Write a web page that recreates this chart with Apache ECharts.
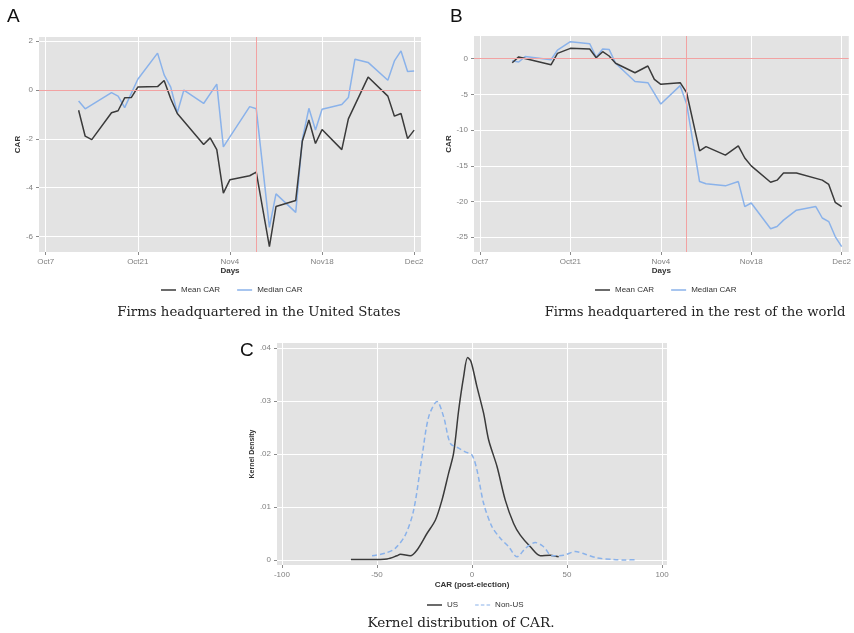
<!DOCTYPE html>
<html><head><meta charset="utf-8">
<script src="https://cdn.jsdelivr.net/npm/echarts@6/dist/echarts.min.js"></script>
<style>html,body{margin:0;padding:0;background:#fff}#c{width:854px;height:633px}</style>
</head><body><div id="c"></div>
<script>
// x values are day offsets counted from Oct 7
const dayTicks = [0, 14, 28, 42, 56];
const dayTickLabels = ['Oct7', 'Oct21', 'Nov4', 'Nov18', 'Dec2'];
const electionDay = 32; // Nov 8

// Panel A: firms headquartered in the United States
const usMeanDays = [5,6,7,10,11,12,13,14,17,18,19,20,24,25,26,27,28,31,32,34,35,38,39,40,41,42,45,46,49,52,53,54,55,56];
const usMeanCAR  = [-0.83,-1.89,-2.03,-0.93,-0.85,-0.32,-0.31,0.12,0.14,0.39,-0.36,-0.96,-2.23,-1.96,-2.44,-4.22,-3.67,-3.51,-3.36,-6.41,-4.77,-4.52,-2.1,-1.23,-2.19,-1.62,-2.44,-1.18,0.53,-0.25,-1.07,-0.96,-1.99,-1.64];
const usMedianDays = [5,6,10,11,12,14,17,18,19,20,21,24,26,27,31,32,34,35,38,39,40,41,42,45,46,47,49,52,53,54,55,56];
const usMedianCAR  = [-0.45,-0.77,-0.11,-0.25,-0.72,0.44,1.51,0.62,0.12,-0.93,0.0,-0.55,0.24,-2.33,-0.68,-0.77,-5.62,-4.25,-5.01,-2.03,-0.75,-1.64,-0.79,-0.59,-0.31,1.26,1.13,0.4,1.19,1.6,0.76,0.78];
const usTicks = [-6, -4, -2, 0, 2];

// Panel B: firms headquartered in the rest of the world
const rowMeanDays = [5,6,11,12,14,17,18,19,20,21,24,26,27,28,31,32,34,35,38,40,41,42,45,46,47,49,53,54,55,56];
const rowMeanCAR  = [-0.56,0.25,-0.85,0.75,1.45,1.36,0.14,0.98,0.38,-0.64,-1.96,-1.02,-2.89,-3.59,-3.36,-4.76,-12.9,-12.3,-13.5,-12.2,-13.9,-15.0,-17.3,-17.0,-16.0,-16.0,-17.0,-17.6,-20.1,-20.7];
const rowMedianDays = [5,6,7,11,12,14,17,18,19,20,21,24,26,27,28,31,32,34,35,38,40,41,42,45,46,47,49,52,53,54,55,56];
const rowMedianCAR  = [-0.28,-0.46,0.3,-0.15,1.2,2.38,2.1,0.2,1.35,1.3,-0.64,-3.2,-3.35,-4.85,-6.35,-3.77,-6.35,-17.2,-17.5,-17.8,-17.2,-20.7,-20.2,-23.8,-23.5,-22.6,-21.2,-20.7,-22.3,-22.8,-24.9,-26.3];
const rowTicks = [-25, -20, -15, -10, -5, 0];

// Panel C: kernel density of post-election CAR
const usKdeX = [-63.7,-53.5,-44.7,-39.5,-37.7,-32.5,-28.9,-23.7,-19.3,-15.8,-12.3,-9.7,-7.0,-4.4,-2.3,-0.5,2.6,6.1,8.8,13.2,17.5,21.9,25.4,30.7,36.0,41.2,45.6];
const usKdeY = [0.0001,0.0001,0.0002,0.0008,0.0011,0.0008,0.0019,0.005,0.0075,0.0113,0.0164,0.0201,0.0283,0.0346,0.0382,0.0374,0.0327,0.0277,0.0226,0.0176,0.0113,0.0069,0.0047,0.0025,0.0008,0.0009,0.0006];
const nonUsKdeX = [-52.6,-45.6,-40.4,-35.1,-30.7,-26.3,-22.8,-18.4,-14.9,-11.4,-7.0,-3.5,0.0,2.6,6.1,10.5,14.9,19.3,23.7,28.1,33.3,37.7,42.1,48.2,54.4,59.6,65.8,74.5,80.7,86.8];
const nonUsKdeY = [0.0008,0.0013,0.0022,0.0047,0.0094,0.0195,0.027,0.0299,0.027,0.022,0.0211,0.0204,0.0198,0.017,0.0107,0.0063,0.0041,0.0025,0.0006,0.0022,0.0033,0.0025,0.0008,0.0009,0.0016,0.0011,0.0004,0.0001,0.0,0.0001];
const carTicks = [-100, -50, 0, 50, 100];
const densTicks = [0, 0.01, 0.02, 0.03, 0.04];
const densTickLabels = ['0', '.01', '.02', '.03', '.04'];

const zip = (a, b) => a.map((v, i) => [v, b[i]]);

const BG = '#e3e3e3', BLACK = '#3a3a3a', BLUE = '#8ab2ea', RED = '#f2a2a2';
const FONT = 'Liberation Sans, Arial, sans-serif';
const SERIF = 'DejaVu Serif, serif';
const tickLbl = { color: '#808080', fontSize: 8, fontFamily: FONT };

function axisBase(gi, min, max, ticks, fmt, name, gap, nfs) {
  return {
    type: 'value', gridIndex: gi, min, max,
    name, nameLocation: 'middle', nameGap: gap,
    nameTextStyle: { color: '#333', fontSize: nfs || 8, fontWeight: 'bold', fontFamily: FONT },
    axisLine: { show: false, onZero: false },
    axisTick: { show: true, inside: false, length: 3, lineStyle: { color: '#8a8a8a' }, customValues: ticks },
    axisLabel: Object.assign({ margin: 6, customValues: ticks, formatter: fmt }, tickLbl),
    splitLine: { show: true, lineStyle: { color: '#ffffff', width: 1 } }
  };
}
const xAx = (gi, min, max, ticks, fmt, name, gap) =>
  Object.assign(axisBase(gi, min, max, ticks, fmt, name, gap), { position: 'bottom' });
const yAx = (gi, min, max, ticks, fmt, name, gap, nfs) =>
  Object.assign(axisBase(gi, min, max, ticks, fmt, name, gap, nfs), { position: 'left', nameRotate: 90 });

const dayFmt = v => { const i = dayTicks.indexOf(v); return i >= 0 ? dayTickLabels[i] : ''; };
const numFmt = v => String(v);
const densFmt = v => { const i = densTicks.findIndex(t => Math.abs(t - v) < 1e-9); return i >= 0 ? densTickLabels[i] : ''; };

const refLines = {
  silent: true, symbol: 'none', label: { show: false },
  lineStyle: { color: RED, width: 1, type: 'solid' },
  data: [{ yAxis: 0 }, { xAxis: electionDay }]
};
function lineSeries(name, xi, data, color, extra) {
  return Object.assign({
    type: 'line', name, xAxisIndex: xi, yAxisIndex: xi, data,
    showSymbol: false, symbol: 'none', color,
    lineStyle: { color, width: 1.5 }
  }, extra || {});
}
const solidIcon = 'path://M0,0h15v1.5h-15z';
const dashIcon = 'path://M0,0h5v1.5h-5z M8,0h5v1.5h-5z M16,0h5v1.5h-5z';
const legendBase = {
  itemWidth: 15, itemHeight: 2, itemGap: 17, padding: 0,
  textStyle: { color: '#333', fontSize: 8, fontFamily: FONT }
};

const chart = echarts.init(document.getElementById('c'), null, { renderer: 'canvas' });
chart.setOption({
  animation: false,
  backgroundColor: '#ffffff',
  grid: [
    { left: 39, top: 37, width: 382, height: 215, show: true, backgroundColor: BG, borderWidth: 0 },
    { left: 474, top: 36, width: 378, height: 216, show: true, backgroundColor: BG, borderWidth: 0 },
    { left: 277, top: 343, width: 390, height: 222, show: true, backgroundColor: BG, borderWidth: 0 }
  ],
  xAxis: [
    xAx(0, -1.02, 57.04, dayTicks, dayFmt, 'Days', 15),
    xAx(1, -0.92, 57.1, dayTicks, dayFmt, 'Days', 15),
    xAx(2, -102.6, 102.6, carTicks, numFmt, 'CAR (post-election)', 16)
  ],
  yAxis: [
    yAx(0, -6.63, 2.17, usTicks, numFmt, 'CAR', 15),
    yAx(1, -27.06, 3.18, rowTicks, numFmt, 'CAR', 21),
    yAx(2, -0.00094, 0.04094, densTicks, densFmt, 'Kernel Density', 21, 7)
  ],
  legend: [
    Object.assign({ left: 161, top: 286, data: [
      { name: 'Mean CAR', icon: solidIcon, itemStyle: { color: BLACK } },
      { name: 'Median CAR', icon: solidIcon, itemStyle: { color: BLUE } }] }, legendBase),
    Object.assign({ left: 595, top: 286, data: [
      { name: 'Mean CAR', icon: solidIcon, itemStyle: { color: BLACK } },
      { name: 'Median CAR', icon: solidIcon, itemStyle: { color: BLUE } }] }, legendBase),
    Object.assign({ left: 427, top: 601, data: [
      { name: 'US', icon: solidIcon, itemStyle: { color: BLACK } },
      { name: 'Non-US', icon: dashIcon, itemStyle: { color: BLUE } }] }, legendBase)
  ],
  series: [
    lineSeries('Mean CAR', 0, zip(usMeanDays, usMeanCAR), BLACK, { markLine: refLines, z: 3 }),
    lineSeries('Median CAR', 0, zip(usMedianDays, usMedianCAR), BLUE, { z: 2 }),
    lineSeries('Mean CAR', 1, zip(rowMeanDays, rowMeanCAR), BLACK, { markLine: refLines, z: 3 }),
    lineSeries('Median CAR', 1, zip(rowMedianDays, rowMedianCAR), BLUE, { z: 2 }),
    lineSeries('US', 2, zip(usKdeX, usKdeY), BLACK, { smooth: 0.3 }),
    lineSeries('Non-US', 2, zip(nonUsKdeX, nonUsKdeY), BLUE, { smooth: 0.3, lineStyle: { color: BLUE, width: 1.5, type: [5, 3] } })
  ],
  graphic: [
    { type: 'text', left: 7, top: 7, style: { text: 'A', fontSize: 19, fontFamily: FONT, fill: '#111' } },
    { type: 'text', left: 450, top: 7, style: { text: 'B', fontSize: 19, fontFamily: FONT, fill: '#111' } },
    { type: 'text', left: 240, top: 341, style: { text: 'C', fontSize: 19, fontFamily: FONT, fill: '#111' } },
    { type: 'text', x: 259, y: 313, style: { text: 'Firms headquartered in the United States', fontSize: 13.3, fontFamily: SERIF, fill: '#222', align: 'center', verticalAlign: 'middle' } },
    { type: 'text', x: 695, y: 313, style: { text: 'Firms headquartered in the rest of the world', fontSize: 13.2, fontFamily: SERIF, fill: '#222', align: 'center', verticalAlign: 'middle' } },
    { type: 'text', x: 461, y: 623, style: { text: 'Kernel distribution of CAR.', fontSize: 13.6, fontFamily: SERIF, fill: '#222', align: 'center', verticalAlign: 'middle' } }
  ]
});
</script>
</body></html>
